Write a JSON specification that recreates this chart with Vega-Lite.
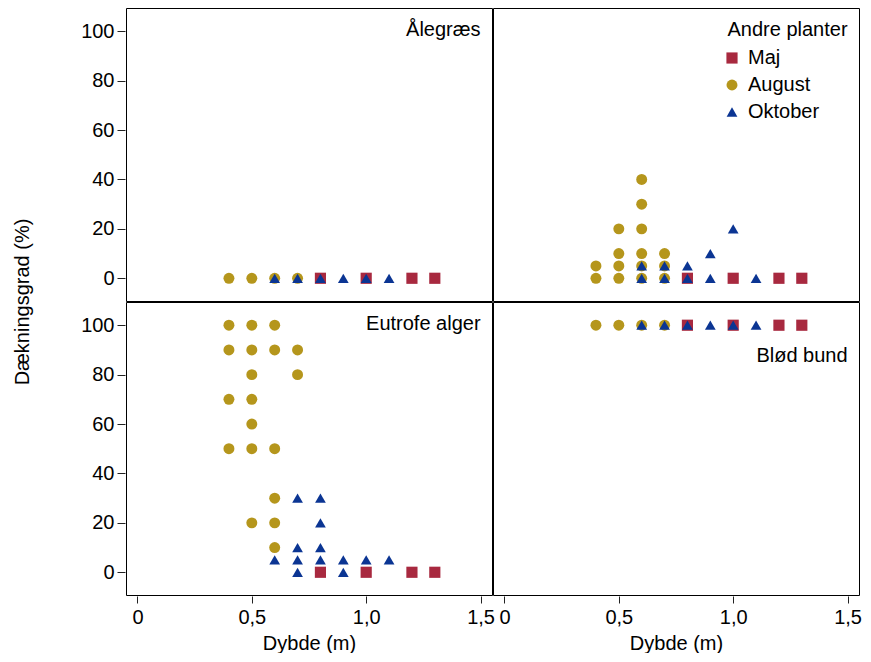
{
  "$schema": "https://vega.github.io/schema/vega-lite/v6.json",
  "padding": {"left": 12, "top": 7, "right": 0, "bottom": 0},
  "bounds": "flush",
  "datasets": {
    "panels": [
      {"panel": "Ålegræs", "r": 1, "c": 1},
      {"panel": "Andre planter", "r": 1, "c": 2},
      {"panel": "Eutrofe alger", "r": 2, "c": 1},
      {"panel": "Blød bund", "r": 2, "c": 2}
    ],
    "obs": [
      {"panel": "Ålegræs", "month": "Maj", "depth": 0.8, "cover": 0},
      {"panel": "Ålegræs", "month": "Maj", "depth": 1.0, "cover": 0},
      {"panel": "Ålegræs", "month": "Maj", "depth": 1.2, "cover": 0},
      {"panel": "Ålegræs", "month": "Maj", "depth": 1.3, "cover": 0},
      {"panel": "Andre planter", "month": "Maj", "depth": 0.8, "cover": 0},
      {"panel": "Andre planter", "month": "Maj", "depth": 1.0, "cover": 0},
      {"panel": "Andre planter", "month": "Maj", "depth": 1.2, "cover": 0},
      {"panel": "Andre planter", "month": "Maj", "depth": 1.3, "cover": 0},
      {"panel": "Eutrofe alger", "month": "Maj", "depth": 0.8, "cover": 0},
      {"panel": "Eutrofe alger", "month": "Maj", "depth": 1.0, "cover": 0},
      {"panel": "Eutrofe alger", "month": "Maj", "depth": 1.2, "cover": 0},
      {"panel": "Eutrofe alger", "month": "Maj", "depth": 1.3, "cover": 0},
      {"panel": "Blød bund", "month": "Maj", "depth": 0.8, "cover": 100},
      {"panel": "Blød bund", "month": "Maj", "depth": 1.0, "cover": 100},
      {"panel": "Blød bund", "month": "Maj", "depth": 1.2, "cover": 100},
      {"panel": "Blød bund", "month": "Maj", "depth": 1.3, "cover": 100},

      {"panel": "Ålegræs", "month": "August", "depth": 0.4, "cover": 0},
      {"panel": "Ålegræs", "month": "August", "depth": 0.5, "cover": 0},
      {"panel": "Ålegræs", "month": "August", "depth": 0.6, "cover": 0},
      {"panel": "Ålegræs", "month": "August", "depth": 0.7, "cover": 0},
      {"panel": "Andre planter", "month": "August", "depth": 0.4, "cover": 0},
      {"panel": "Andre planter", "month": "August", "depth": 0.4, "cover": 5},
      {"panel": "Andre planter", "month": "August", "depth": 0.5, "cover": 0},
      {"panel": "Andre planter", "month": "August", "depth": 0.5, "cover": 5},
      {"panel": "Andre planter", "month": "August", "depth": 0.5, "cover": 10},
      {"panel": "Andre planter", "month": "August", "depth": 0.5, "cover": 20},
      {"panel": "Andre planter", "month": "August", "depth": 0.6, "cover": 0},
      {"panel": "Andre planter", "month": "August", "depth": 0.6, "cover": 5},
      {"panel": "Andre planter", "month": "August", "depth": 0.6, "cover": 10},
      {"panel": "Andre planter", "month": "August", "depth": 0.6, "cover": 20},
      {"panel": "Andre planter", "month": "August", "depth": 0.6, "cover": 30},
      {"panel": "Andre planter", "month": "August", "depth": 0.6, "cover": 40},
      {"panel": "Andre planter", "month": "August", "depth": 0.7, "cover": 0},
      {"panel": "Andre planter", "month": "August", "depth": 0.7, "cover": 5},
      {"panel": "Andre planter", "month": "August", "depth": 0.7, "cover": 10},
      {"panel": "Eutrofe alger", "month": "August", "depth": 0.4, "cover": 100},
      {"panel": "Eutrofe alger", "month": "August", "depth": 0.4, "cover": 90},
      {"panel": "Eutrofe alger", "month": "August", "depth": 0.4, "cover": 70},
      {"panel": "Eutrofe alger", "month": "August", "depth": 0.4, "cover": 50},
      {"panel": "Eutrofe alger", "month": "August", "depth": 0.5, "cover": 100},
      {"panel": "Eutrofe alger", "month": "August", "depth": 0.5, "cover": 90},
      {"panel": "Eutrofe alger", "month": "August", "depth": 0.5, "cover": 80},
      {"panel": "Eutrofe alger", "month": "August", "depth": 0.5, "cover": 70},
      {"panel": "Eutrofe alger", "month": "August", "depth": 0.5, "cover": 60},
      {"panel": "Eutrofe alger", "month": "August", "depth": 0.5, "cover": 50},
      {"panel": "Eutrofe alger", "month": "August", "depth": 0.5, "cover": 20},
      {"panel": "Eutrofe alger", "month": "August", "depth": 0.6, "cover": 100},
      {"panel": "Eutrofe alger", "month": "August", "depth": 0.6, "cover": 90},
      {"panel": "Eutrofe alger", "month": "August", "depth": 0.6, "cover": 50},
      {"panel": "Eutrofe alger", "month": "August", "depth": 0.6, "cover": 30},
      {"panel": "Eutrofe alger", "month": "August", "depth": 0.6, "cover": 20},
      {"panel": "Eutrofe alger", "month": "August", "depth": 0.6, "cover": 10},
      {"panel": "Eutrofe alger", "month": "August", "depth": 0.7, "cover": 90},
      {"panel": "Eutrofe alger", "month": "August", "depth": 0.7, "cover": 80},
      {"panel": "Blød bund", "month": "August", "depth": 0.4, "cover": 100},
      {"panel": "Blød bund", "month": "August", "depth": 0.5, "cover": 100},
      {"panel": "Blød bund", "month": "August", "depth": 0.6, "cover": 100},
      {"panel": "Blød bund", "month": "August", "depth": 0.7, "cover": 100},

      {"panel": "Ålegræs", "month": "Oktober", "depth": 0.6, "cover": 0},
      {"panel": "Ålegræs", "month": "Oktober", "depth": 0.7, "cover": 0},
      {"panel": "Ålegræs", "month": "Oktober", "depth": 0.8, "cover": 0},
      {"panel": "Ålegræs", "month": "Oktober", "depth": 0.9, "cover": 0},
      {"panel": "Ålegræs", "month": "Oktober", "depth": 1.0, "cover": 0},
      {"panel": "Ålegræs", "month": "Oktober", "depth": 1.1, "cover": 0},
      {"panel": "Andre planter", "month": "Oktober", "depth": 0.6, "cover": 0},
      {"panel": "Andre planter", "month": "Oktober", "depth": 0.6, "cover": 5},
      {"panel": "Andre planter", "month": "Oktober", "depth": 0.7, "cover": 0},
      {"panel": "Andre planter", "month": "Oktober", "depth": 0.7, "cover": 5},
      {"panel": "Andre planter", "month": "Oktober", "depth": 0.8, "cover": 0},
      {"panel": "Andre planter", "month": "Oktober", "depth": 0.8, "cover": 5},
      {"panel": "Andre planter", "month": "Oktober", "depth": 0.9, "cover": 0},
      {"panel": "Andre planter", "month": "Oktober", "depth": 0.9, "cover": 10},
      {"panel": "Andre planter", "month": "Oktober", "depth": 1.0, "cover": 20},
      {"panel": "Andre planter", "month": "Oktober", "depth": 1.1, "cover": 0},
      {"panel": "Eutrofe alger", "month": "Oktober", "depth": 0.6, "cover": 5},
      {"panel": "Eutrofe alger", "month": "Oktober", "depth": 0.7, "cover": 30},
      {"panel": "Eutrofe alger", "month": "Oktober", "depth": 0.7, "cover": 10},
      {"panel": "Eutrofe alger", "month": "Oktober", "depth": 0.7, "cover": 5},
      {"panel": "Eutrofe alger", "month": "Oktober", "depth": 0.7, "cover": 0},
      {"panel": "Eutrofe alger", "month": "Oktober", "depth": 0.8, "cover": 30},
      {"panel": "Eutrofe alger", "month": "Oktober", "depth": 0.8, "cover": 20},
      {"panel": "Eutrofe alger", "month": "Oktober", "depth": 0.8, "cover": 10},
      {"panel": "Eutrofe alger", "month": "Oktober", "depth": 0.8, "cover": 5},
      {"panel": "Eutrofe alger", "month": "Oktober", "depth": 0.9, "cover": 5},
      {"panel": "Eutrofe alger", "month": "Oktober", "depth": 0.9, "cover": 0},
      {"panel": "Eutrofe alger", "month": "Oktober", "depth": 1.0, "cover": 5},
      {"panel": "Eutrofe alger", "month": "Oktober", "depth": 1.1, "cover": 5},
      {"panel": "Blød bund", "month": "Oktober", "depth": 0.6, "cover": 100},
      {"panel": "Blød bund", "month": "Oktober", "depth": 0.7, "cover": 100},
      {"panel": "Blød bund", "month": "Oktober", "depth": 0.8, "cover": 100},
      {"panel": "Blød bund", "month": "Oktober", "depth": 0.9, "cover": 100},
      {"panel": "Blød bund", "month": "Oktober", "depth": 1.0, "cover": 100},
      {"panel": "Blød bund", "month": "Oktober", "depth": 1.1, "cover": 100}
    ]
  },
  "data": {"name": "obs"},
  "transform": [
    {"lookup": "panel", "from": {"data": {"name": "panels"}, "key": "panel", "fields": ["r", "c"]}}
  ],
  "facet": {
    "row": {
      "field": "r", "type": "ordinal",
      "header": {"title": "Dækningsgrad (%)", "labels": false, "titleOrient": "left", "titleFontSize": 20, "titleFontWeight": "normal", "titleColor": "black", "titlePadding": 37}
    },
    "column": {
      "field": "c", "type": "ordinal",
      "header": {"title": null, "labels": false}
    }
  },
  "spacing": 1,
  "resolve": {"scale": {"x": "shared", "y": "shared"}},
  "spec": {
    "width": 366,
    "height": 293,
    "layer": [
      {
        "mark": {"type": "point", "filled": true, "opacity": 1},
        "encoding": {
          "x": {
            "field": "depth", "type": "quantitative",
            "scale": {"domain": [-0.05, 1.55], "nice": false, "zero": false},
            "axis": {
              "title": "Dybde (m)", "values": [0, 0.5, 1, 1.5],
              "labelExpr": "datum.value == 0 ? '0' : replace(format(datum.value, '.1f'), '.', ',')",
              "grid": false, "domain": false, "tickSize": 7, "offset": 1,
              "tickColor": "#222", "labelColor": "black", "titleColor": "black",
              "labelFontSize": 20, "titleFontSize": 20, "titleFontWeight": "normal",
              "labelPadding": 4, "titlePadding": 6, "labelFlush": false
            }
          },
          "y": {
            "field": "cover", "type": "quantitative",
            "scale": {"domain": [-9.2, 109.4], "nice": false, "zero": false},
            "axis": {
              "title": null, "values": [0, 20, 40, 60, 80, 100],
              "grid": false, "domain": false, "tickSize": 8, "offset": 1,
              "tickColor": "#222", "labelColor": "black",
              "labelFontSize": 20, "labelPadding": 3
            }
          },
          "color": {
            "field": "month", "type": "nominal",
            "scale": {"domain": ["Maj", "August", "Oktober"], "range": ["#a8293f", "#b5961c", "#0b3593"]},
            "legend": {
              "orient": "none", "legendX": 596, "legendY": 40, "title": null,
              "labelFontSize": 20, "labelColor": "black", "symbolSize": 110,
              "rowPadding": 7, "labelOffset": 6
            }
          },
          "shape": {
            "field": "month", "type": "nominal",
            "scale": {"domain": ["Maj", "August", "Oktober"], "range": ["square", "circle", "triangle-up"]}
          },
          "size": {
            "field": "month", "type": "nominal",
            "scale": {"domain": ["Maj", "August", "Oktober"], "range": [125, 115, 185]},
            "legend": null
          }
        }
      },
      {
        "transform": [
          {"aggregate": [{"op": "count", "as": "n"}], "groupby": ["panel", "r", "c"]},
          {"filter": "datum.panel != 'Blød bund'"}
        ],
        "mark": {"type": "text", "align": "right", "baseline": "alphabetic", "fontSize": 20, "color": "black"},
        "encoding": {
          "x": {"datum": 1.5},
          "y": {"datum": 98},
          "text": {"field": "panel"}
        }
      },
      {
        "transform": [
          {"aggregate": [{"op": "count", "as": "n"}], "groupby": ["panel", "r", "c"]},
          {"filter": "datum.panel == 'Blød bund'"}
        ],
        "mark": {"type": "text", "align": "right", "baseline": "alphabetic", "fontSize": 20, "color": "black"},
        "encoding": {
          "x": {"datum": 1.5},
          "y": {"datum": 85},
          "text": {"field": "panel"}
        }
      }
    ]
  },
  "config": {
    "font": "Liberation Sans",
    "view": {"stroke": "black", "strokeWidth": 1},
    "background": "white"
  }
}
